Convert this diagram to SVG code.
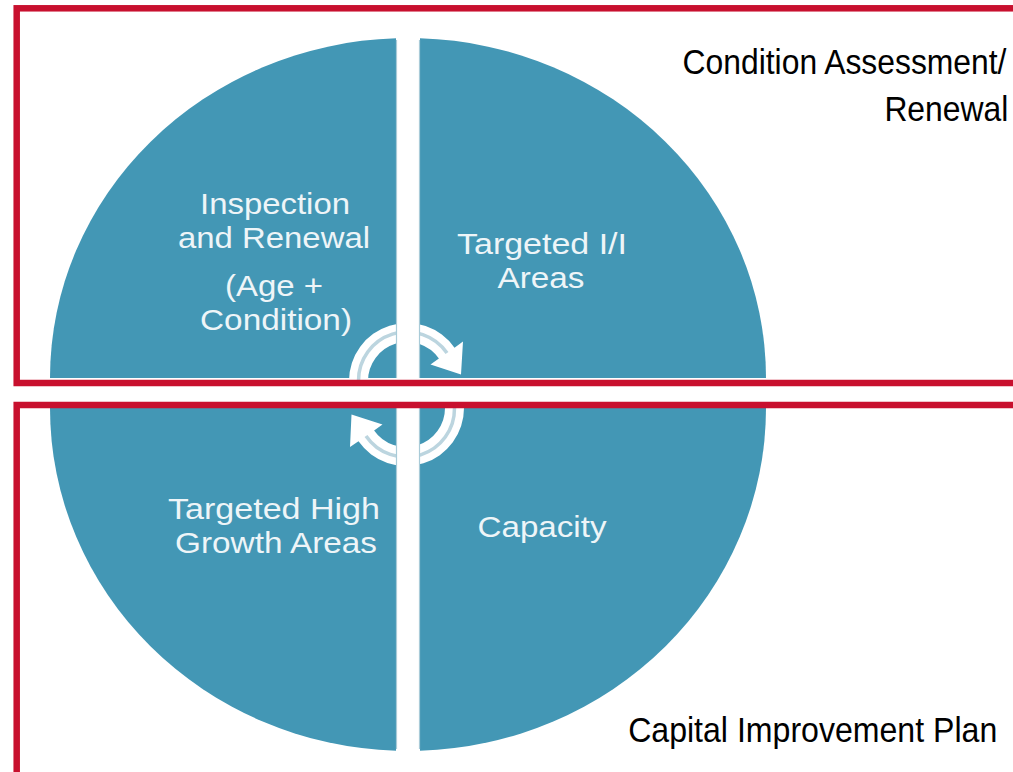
<svg xmlns="http://www.w3.org/2000/svg" width="1013" height="772" viewBox="0 0 1013 772">
<style>
.q{fill:#4397b5}
.qt{font-family:"Liberation Sans",Arial,sans-serif;font-size:29px;fill:#eef5f8;text-anchor:middle}
.lbl{font-family:"Liberation Sans",Arial,sans-serif;font-size:35px;fill:#000}
.frame{fill:none;stroke:#c8102e;stroke-width:6.5}
.arr{fill:#ffffff}
.arrl{fill:none;stroke:#bcd5df;stroke-width:3.5}
.edge{stroke:#a9cbd8;stroke-width:1.2}
</style>
<rect width="1013" height="772" fill="#ffffff"/>
<g id="quadrant-inspection">
<path class="q" d="M396,378 H50 A358,340 0 0 1 396,38.2 Z"/>
<text class="qt" x="275" y="214" textLength="150" lengthAdjust="spacingAndGlyphs">Inspection</text>
<text class="qt" x="274" y="248" textLength="192" lengthAdjust="spacingAndGlyphs">and Renewal</text>
<text class="qt" x="274" y="296" textLength="98" lengthAdjust="spacingAndGlyphs">(Age +</text>
<text class="qt" x="276" y="330" textLength="152" lengthAdjust="spacingAndGlyphs">Condition)</text>
</g>
<g id="quadrant-targeted-ii">
<path class="q" d="M420,378 V38.2 A358,340 0 0 1 766,378 Z"/>
<text class="qt" x="542" y="254" textLength="170" lengthAdjust="spacingAndGlyphs">Targeted I/I</text>
<text class="qt" x="541" y="288" textLength="87" lengthAdjust="spacingAndGlyphs">Areas</text>
</g>
<g id="quadrant-high-growth">
<path class="q" d="M396,408 H50 A358,343 0 0 0 396,750.8 Z"/>
<text class="qt" x="274" y="519" textLength="212" lengthAdjust="spacingAndGlyphs">Targeted High</text>
<text class="qt" x="276" y="553" textLength="202" lengthAdjust="spacingAndGlyphs">Growth Areas</text>
</g>
<g id="quadrant-capacity">
<path class="q" d="M420,408 V750.8 A358,343 0 0 0 766,408 Z"/>
<text class="qt" x="542" y="537" textLength="129" lengthAdjust="spacingAndGlyphs">Capacity</text>
</g>
<g id="connectors">
<path class="arr" d="M349,381 A58,58 0 0 1 454.5,347.7 L463,341.5 L461,374.5 L430.5,364.5 L438.9,358.6 A39,39 0 0 0 368,381 Z"/>
<path class="arrl" d="M358.5,381 A48.5,48.5 0 0 1 447,353"/>
<path class="arr" d="M464,408 A58,58 0 0 1 358.5,441.3 L350,447 L351.5,414.5 L382.5,424.5 L374.1,430.4 A39,39 0 0 0 445,408 Z"/>
<path class="arrl" d="M454.5,408 A48.5,48.5 0 0 1 366,436"/>
</g>
<g id="gap">
<rect x="396" y="300" width="24" height="180" fill="#ffffff"/>
<line class="edge" x1="396.5" y1="40" x2="396.5" y2="378"/>
<line class="edge" x1="419.5" y1="40" x2="419.5" y2="378"/>
<line class="edge" x1="396.5" y1="408" x2="396.5" y2="749"/>
<line class="edge" x1="419.5" y1="408" x2="419.5" y2="749"/>
</g>
<g id="frame-condition">
<rect class="frame" x="16.7" y="8.3" width="1020" height="374.7"/>
<text class="lbl" transform="scale(0.91,1)" x="1106" y="74" text-anchor="end">Condition Assessment/</text>
<text class="lbl" transform="scale(0.91,1)" x="1108" y="121" text-anchor="end">Renewal</text>
</g>
<g id="frame-cip">
<rect class="frame" x="16.7" y="405" width="1020" height="400"/>
<text class="lbl" transform="scale(0.917,1)" x="685" y="742">Capital Improvement Plan</text>
</g>
</svg>
